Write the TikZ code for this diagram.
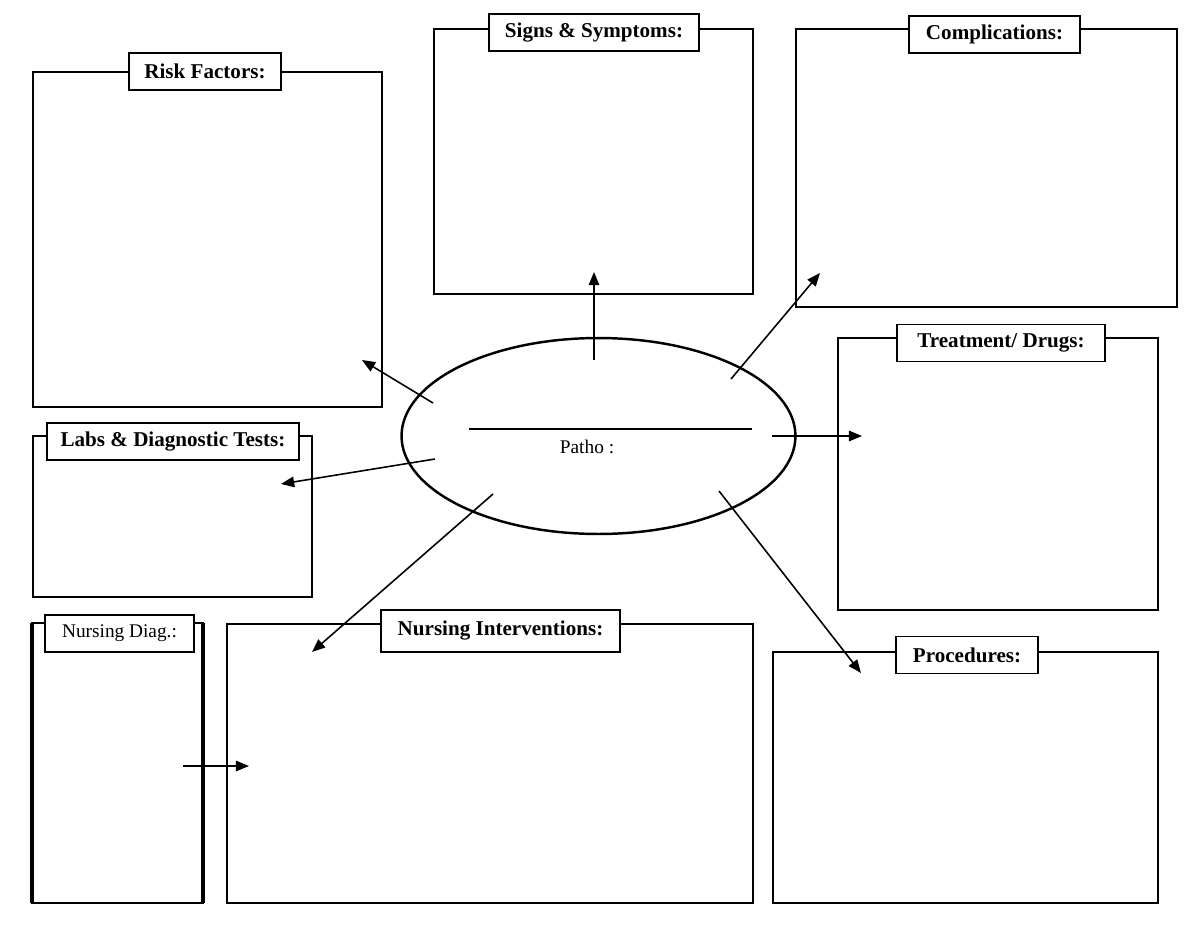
\documentclass[tikz,border=0pt]{standalone}
\usepackage{fontspec}
\setmainfont{Liberation Serif}
\usetikzlibrary{arrows.meta,shapes.geometric,fit}
\tikzset{
  box/.style={draw, line width=1.1pt, inner sep=0pt, outer sep=0pt},
  tag/.style={draw, fill=white, line width=1.1pt, minimum height=0.74cm, inner sep=0pt, font=\bfseries\fontsize{12}{14}\selectfont},
  arr/.style={line width=0.9pt, -{Triangle[length=7.5pt,width=6pt]}}
}
\begin{document}
\begin{tikzpicture}[x=0.02cm,y=-0.02cm]
    \useasboundingbox (0,0) rectangle (1200,927);
    % boxes round the centre
    \node[box, fit={(33,72) (382,407)}] (risk) {};
    \node[box, fit={(434,29) (753,294)}] (signs) {};
    \node[box, fit={(796,29) (1177,307)}] (compl) {};
    \node[box, fit={(838,338) (1158,610)}] (treat) {};
    \node[box, fit={(33,436) (312,597)}] (labs) {};
    \node[box, fit={(32,623) (203,903)}] (diag) {};
    \draw[line width=2pt] (diag.south west) -- (diag.north west);
    \draw[line width=2pt] (diag.south east) -- (diag.north east);
    \node[box, fit={(227,624) (753,903)}] (interv) {};
    \node[box, fit={(773,652) (1158,903)}] (proc) {};
    % titles
    \node[tag, minimum width=3.04cm] (riskT) at (205,71.5) {Risk Factors:};
    \node[tag, minimum width=4.2cm] (signsT) at (594,32.5) {Signs \& Symptoms:};
    \node[tag, minimum width=3.42cm] (complT) at (994.5,34.5) {Complications:};
    \node[tag, minimum width=4.16cm] (treatT) at (1001,343) {Treatment/ Drugs:};
    \node[tag, minimum width=5.04cm] (labsT) at (173,441.5) {Labs \& Diagnostic Tests:};
    \node[tag, minimum width=2.98cm, font=\fontsize{11}{13}\selectfont] (diagT) at (119.5,633.5) {Nursing Diag.:};
    \node[tag, minimum width=4.78cm, minimum height=0.84cm] (intervT) at (500.5,631) {Nursing Interventions:};
    \node[tag, minimum width=2.84cm] (procT) at (967,655) {Procedures:};
    % patho
    \node[draw, ellipse, line width=1.4pt, minimum width=7.88cm, minimum height=3.92cm, inner sep=0pt] (patho) at (598.5,436) {};
    \coordinate (lineA) at (469,429);
    \coordinate (lineB) at (752,429);
    \draw[line width=1pt] (lineA) -- (lineB);
    \node[font=\fontsize{11}{13}\selectfont] (pathoT) at (587,447) {Patho :};
    % arrow ends
    \coordinate (sS) at (594,360);  \coordinate (eS) at (594,272);
    \coordinate (sC) at (731,379);  \coordinate (eC) at (820,273);
    \coordinate (sR) at (433,403);  \coordinate (eR) at (362,360);
    \coordinate (sL) at (435,459);  \coordinate (eL) at (281,484);
    \coordinate (sT) at (772,436);  \coordinate (eT) at (862,436);
    \coordinate (sI) at (493,494);  \coordinate (eI) at (312,652);
    \coordinate (sP) at (719,491);  \coordinate (eP) at (861,673);
    \coordinate (sD) at (183,766);  \coordinate (eD) at (249,766);
    \foreach \s/\e in {sS/eS,sC/eC,sR/eR,sL/eL,sT/eT,sI/eI,sP/eP,sD/eD}
        \draw[arr] (\s) -- (\e);
\end{tikzpicture}
\end{document}
